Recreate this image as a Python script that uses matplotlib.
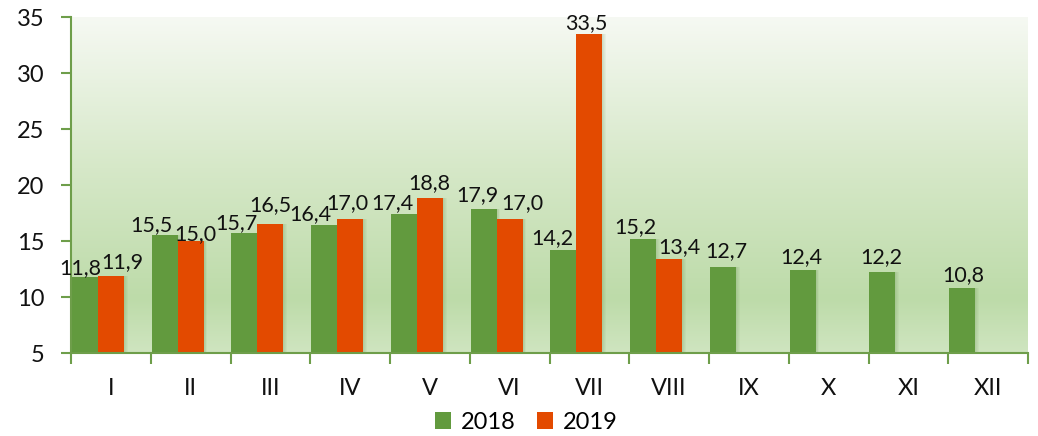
import numpy as np
import matplotlib
matplotlib.use("Agg")
import matplotlib.pyplot as plt
from matplotlib.colors import LinearSegmentedColormap

categories = ["I", "II", "III", "IV", "V", "VI", "VII", "VIII", "IX", "X", "XI", "XII"]
values_2018 = [11.8, 15.5, 15.7, 16.4, 17.4, 17.9, 14.2, 15.2, 12.7, 12.4, 12.2, 10.8]
values_2019 = [11.9, 15.0, 16.5, 17.0, 18.8, 17.0, 33.5, 13.4]
series_names = ["2018", "2019"]
yticks = [5, 10, 15, 20, 25, 30, 35]

# label nudges (pixels) to mimic the reference's label placement
dx_2018 = [-5, -13, -8, -14, -11, -6, -11, -8, 3, -1, -1, 1]
dy_2018 = [3, 4, 4, 5, 5, 7, 6, 6, 10, 7, 9, 7]
dx_2019 = [11, 5, 0, -3, -1, 13, -3, 10]
dy_2019 = [8, 1, 13, 10, 9, 10, 5, 6]

GREEN = "#629a3e"
ORANGE = "#e34a00"
AXIS = "#6e9e4a"
FONT = ["Lato", "DejaVu Sans"]

plt.rcParams["font.family"] = FONT

fig = plt.figure(figsize=(10.38, 4.36), dpi=100)
ax = fig.add_axes([71 / 1038, 83 / 436, 957 / 1038, 336 / 436])

ymin, ymax = 5, 35
n = len(categories)
ax.set_xlim(-0.5, n - 0.5)
ax.set_ylim(ymin, ymax)

# gradient background
cmap = LinearSegmentedColormap.from_list(
    "bg", [(0.0, "#cfe5c0"), (0.16, "#bddba9"), (0.55, "#d6e8c8"), (1.0, "#f6f9f3")])
grad = np.linspace(0, 1, 256).reshape(-1, 1)
ax.imshow(grad, extent=(-0.5, n - 0.5, ymin, ymax), origin="lower",
          aspect="auto", cmap=cmap, zorder=0)

w = 0.326
x = np.arange(n)
x18 = x - w
x19 = np.arange(len(values_2019))

# soft shadows
for xs, vals in ((x18, values_2018), (x19, values_2019)):
    for k in range(4):
        ax.bar(xs + 0.012 * (k + 1), np.array(vals) - ymin, bottom=ymin, width=w,
               color="#4a7a30", alpha=0.05, zorder=1, linewidth=0)

b1 = ax.bar(x18, np.array(values_2018) - ymin, bottom=ymin, width=w,
            color=GREEN, zorder=2, label=series_names[0], linewidth=0)
b2 = ax.bar(x19, np.array(values_2019) - ymin, bottom=ymin, width=w,
            color=ORANGE, zorder=2, label=series_names[1], linewidth=0)

def fmt(v):
    return f"{v:.1f}".replace(".", ",")

for xs, vals, dxs, dys in ((x18, values_2018, dx_2018, dy_2018),
                           (x19, values_2019, dx_2019, dy_2019)):
    for xi, v, dx, dy in zip(xs, vals, dxs, dys):
        ax.annotate(fmt(v), xy=(xi, v), xytext=(dx, dy), textcoords="offset pixels",
                    ha="center", va="baseline", fontsize=15.5, color="#111111", zorder=3)

# axes styling
for s in ["top", "right"]:
    ax.spines[s].set_visible(False)
for s in ["left", "bottom"]:
    ax.spines[s].set_color(AXIS)
    ax.spines[s].set_linewidth(1.5)

ax.set_yticks(yticks)
ax.set_yticklabels([str(t) for t in yticks], fontsize=17, color="#111111")
ax.tick_params(axis="y", length=7, width=1.5, color=AXIS, pad=12)

ax.set_xticks(np.arange(-0.5, n, 1.0))
ax.set_xticklabels([])
ax.set_xticks(x, minor=True)
ax.set_xticklabels(categories, minor=True, fontsize=17, color="#111111")
ax.tick_params(axis="x", which="major", length=8, width=1.5, color=AXIS)
ax.tick_params(axis="x", which="minor", length=0, pad=18)

leg = fig.legend(handles=[b1, b2], labels=series_names, loc="center",
                 bbox_to_anchor=(526 / 1038, 1 - 422 / 436), ncol=2, frameon=False,
                 fontsize=17, handlelength=0.7, handleheight=0.7,
                 handletextpad=0.4, columnspacing=0.9)

fig.savefig("out.png", dpi=100)
